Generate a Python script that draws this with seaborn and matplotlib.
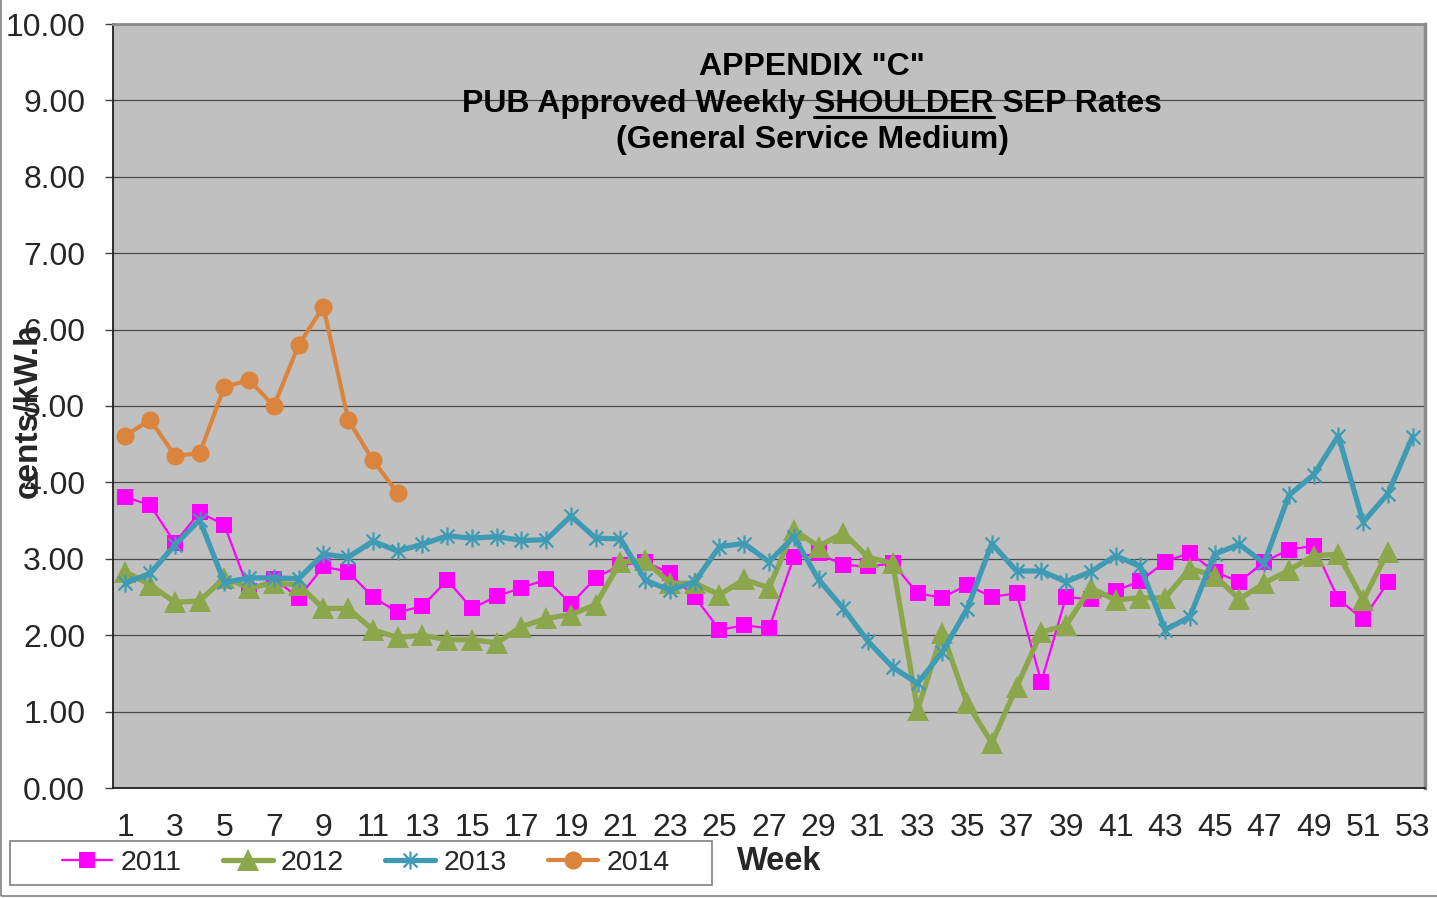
import numpy as np
import pandas as pd
import matplotlib
matplotlib.use("Agg")
import matplotlib.pyplot as plt
import seaborn as sns
from matplotlib.path import Path
from matplotlib.lines import Line2D
from matplotlib.patches import Rectangle
from matplotlib.ticker import FixedLocator, FormatStrFormatter

# Data (cents/kW.h by week)
rates_2011 = [3.81, 3.70, 3.21, 3.61, 3.44, 2.58, 2.74, 2.49, 2.90, 2.83,
              2.50, 2.30, 2.38, 2.72, 2.35, 2.51, 2.62, 2.73, 2.41, 2.75,
              2.92, 2.96, 2.81, 2.50, 2.07, 2.13, 2.09, 3.02, 3.07, 2.92,
              2.90, 2.94, 2.55, 2.49, 2.66, 2.50, 2.55, 1.39, 2.50, 2.47,
              2.58, 2.71, 2.96, 3.08, 2.83, 2.70, 2.96, 3.12, 3.17, 2.47,
              2.21, 2.69]
rates_2012 = [2.83, 2.66, 2.43, 2.45, 2.75, 2.62, 2.68, 2.66, 2.35, 2.35,
              2.07, 1.97, 2.00, 1.94, 1.94, 1.90, 2.11, 2.22, 2.27, 2.40,
              2.96, 2.98, 2.68, 2.68, 2.53, 2.73, 2.62, 3.38, 3.16, 3.34,
              3.02, 2.94, 1.02, 2.03, 1.11, 0.59, 1.32, 2.04, 2.13, 2.62,
              2.46, 2.49, 2.49, 2.87, 2.78, 2.47, 2.68, 2.85, 3.04, 3.06,
              2.46, 3.09]
rates_2013 = [2.68, 2.81, 3.18, 3.51, 2.69, 2.75, 2.75, 2.74, 3.06, 3.02,
              3.23, 3.10, 3.19, 3.30, 3.27, 3.29, 3.24, 3.25, 3.56, 3.27,
              3.26, 2.72, 2.59, 2.70, 3.16, 3.20, 2.96, 3.29, 2.73, 2.35,
              1.92, 1.58, 1.37, 1.78, 2.34, 3.20, 2.84, 2.84, 2.70, 2.83,
              3.04, 2.90, 2.07, 2.24, 3.06, 3.19, 2.94, 3.83, 4.10, 4.61,
              3.48, 3.85, 4.60]
rates_2014 = [4.61, 4.82, 4.35, 4.38, 5.25, 5.34, 5.00, 5.80, 6.30, 4.82,
              4.29, 3.86]

series_names = ["2011", "2012", "2013", "2014"]
series_values = [rates_2011, rates_2012, rates_2013, rates_2014]
y_ticks = [0, 1, 2, 3, 4, 5, 6, 7, 8, 9, 10]
x_tick_weeks = list(range(1, 54, 2))

W, H = 1437, 898
sns.set_style("white")
plt.rcParams['font.family'] = ['Liberation Sans', 'DejaVu Sans']

fig = plt.figure(figsize=(W / 100, H / 100), dpi=100)
ax = fig.add_axes([113 / W, 1 - 788 / H, (1425 - 113) / W, (788 - 24) / H])
ax.set_facecolor("#C0C0C0")

# Excel-like star marker: X plus a vertical bar
star = Path([(-1, -1), (1, 1), (-1, 1), (1, -1), (0, -1.3), (0, 1.3)],
            [Path.MOVETO, Path.LINETO, Path.MOVETO, Path.LINETO, Path.MOVETO, Path.LINETO])

styles = {
    "2011": dict(color="#FF00FF", linewidth=1.6, marker="s", markersize=11.5,
                 markeredgewidth=0),
    "2012": dict(color="#8BA64B", linewidth=3.8, marker="^", markersize=16,
                 markeredgewidth=0),
    "2013": dict(color="#3F9BB3", linewidth=3.8, marker=star, markersize=13,
                 markerfacecolor="none", markeredgecolor="#3F9BB3", markeredgewidth=1.6),
    "2014": dict(color="#DB843D", linewidth=3.0, marker="o", markersize=13,
                 markeredgewidth=0),
}

for name, vals in zip(series_names, series_values):
    df = pd.DataFrame({"week": np.arange(1, len(vals) + 1), "rate": vals})
    sns.lineplot(data=df, x="week", y="rate", ax=ax, label=name, sort=False,
                 zorder=3, **styles[name])

ax.set_xlim(0.5, 53.5)
ax.set_ylim(0, 10)
ax.set_xlabel("")
ax.set_ylabel("")

ax.xaxis.set_major_locator(FixedLocator(x_tick_weeks))
ax.xaxis.set_minor_locator(FixedLocator(np.arange(0.5, 54, 1)))
ax.tick_params(axis="x", which="major", length=0, pad=18, labelsize=23)
ax.tick_params(axis="x", which="minor", length=4, width=1, color="#404040", direction="out")
ax.yaxis.set_major_locator(FixedLocator(y_ticks))
ax.yaxis.set_major_formatter(FormatStrFormatter("%.2f"))
ax.tick_params(axis="y", which="major", length=6, width=1, color="#404040",
               direction="out", pad=14, labelsize=23, left=True)

ax.grid(axis="y", color="#4a4a4a", linewidth=0.9)
ax.grid(axis="x", visible=False)
ax.set_axisbelow(True)

ax.spines["left"].set_color("#202020")
ax.spines["left"].set_linewidth(1.3)
ax.spines["bottom"].set_color("#202020")
ax.spines["bottom"].set_linewidth(1.3)
ax.spines["top"].set_color("#8a8a8a")
ax.spines["top"].set_linewidth(2)
ax.spines["right"].set_color("#8a8a8a")
ax.spines["right"].set_linewidth(2.5)
for s in ax.spines.values():
    s.set_visible(True)

# Titles
xc = 812 / W
TITLE_FS = 23
title_kw = dict(ha="center", va="baseline", fontsize=TITLE_FS, fontweight="bold", color="black")
fig.text(xc, 1 - 75 / H, 'APPENDIX "C"', **title_kw)
line2 = "PUB Approved Weekly SHOULDER SEP Rates"
t2 = fig.text(xc, 1 - 112 / H, line2, **title_kw)
fig.text(xc, 1 - 148 / H, "(General Service Medium)", **title_kw)

# underline SHOULDER
fig.canvas.draw()
renderer = fig.canvas.get_renderer()
full_bb = t2.get_window_extent(renderer)
def text_width(s):
    tmp = fig.text(0, 0, s, fontsize=TITLE_FS, fontweight="bold")
    w = tmp.get_window_extent(renderer).width
    tmp.remove()
    return w
w_upto = text_width("PUB Approved Weekly SHOULDER")
w_word = text_width("SHOULDER")
x_end = full_bb.x0 + w_upto
x_start = x_end - w_word
fig.add_artist(Line2D([x_start / W, x_end / W], [1 - 117 / H, 1 - 117 / H],
                      color="black", linewidth=2.2, transform=fig.transFigure))

# Axis labels
fig.text(28 / W, 1 - 411 / H, "cents/kW.h", rotation=90, ha="center", va="center",
         fontsize=24, fontweight="bold")
fig.text(779 / W, 1 - 861 / H, "Week", ha="center", va="center",
         fontsize=23.5, fontweight="bold")

# Legend in a separate box
if ax.get_legend():
    ax.get_legend().remove()
handles, labels = ax.get_legend_handles_labels()
fig.add_artist(Rectangle((10 / W, 1 - 885 / H), 702 / W, 44 / H, transform=fig.transFigure,
                         facecolor="white", edgecolor="#808080", linewidth=1.2))
fig.legend(handles, labels, loc="center", bbox_to_anchor=(366 / W, 1 - 863 / H),
           ncol=4, frameon=False, fontsize=20.5, handlelength=1.75, handletextpad=0.3,
           columnspacing=1.45, numpoints=1, borderpad=0, borderaxespad=0)

# Outer chart border
fig.add_artist(Rectangle((1.5 / W, 2.5 / H), 1.2, 1.2, transform=fig.transFigure,
                         facecolor="none", edgecolor="#808080", linewidth=1.2))

fig.savefig("out.png", dpi=100)
